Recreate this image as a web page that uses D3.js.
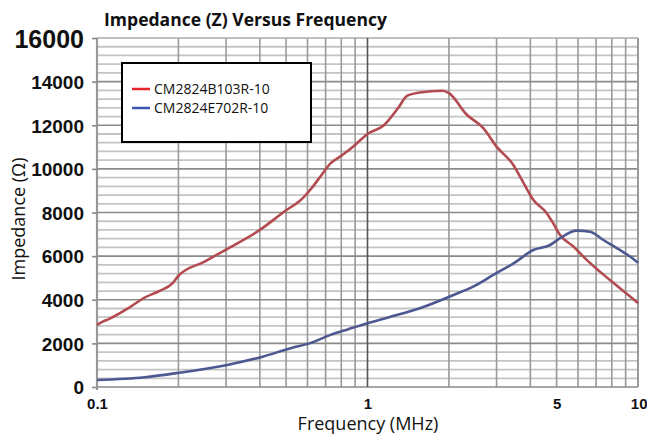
<!DOCTYPE html>
<html><head><meta charset="utf-8">
<script src="https://cdn.jsdelivr.net/npm/d3@7"></script>
<style>
body{margin:0;background:#fff;}
svg{display:block;font-family:"Open Sans",sans-serif;}
</style></head>
<body><svg id="c" width="647" height="435"></svg>
<script>
const redFreq = [0.1,0.105,0.11,0.13,0.15,0.17,0.19,0.2,0.25,0.3,0.4,0.5,0.57,0.62,0.67,0.73,0.8,0.9,1.0,1.15,1.3,1.4,1.56,1.9,2.0,2.33,2.68,3.0,3.46,3.72,4.1,4.6,4.86,5.15,5.77,6.46,7.23,8.58,10];
const redVal  = [2850,3000,3100,3600,4100,4400,4750,5100,5750,6300,7200,8100,8600,9100,9650,10250,10600,11100,11600,12000,12800,13350,13500,13580,13470,12480,11870,11020,10180,9500,8580,7970,7500,6970,6440,5830,5290,4530,3850];
const blueFreq = [0.1,0.15,0.2,0.3,0.41,0.52,0.61,0.73,0.85,1.0,1.2,1.56,2.08,2.5,2.92,3.5,4.1,4.73,5.15,5.93,6.65,7.45,8.58,9.34,10];
const blueVal  = [320,450,650,1000,1390,1780,2000,2390,2650,2920,3200,3610,4220,4650,5140,5700,6280,6510,6820,7170,7120,6740,6280,5980,5700];
const seriesNames = ["CM2824B103R-10","CM2824E702R-10"];
const yTicks = [0,2000,4000,6000,8000,10000,12000,14000,16000];
const xTickVals = [0.1,1,5,10];
const xTickLabels = ["0.1","1","5","10"];

const svg = d3.select("#c");
const L=97,R=638,T=38,B=387;
const x = d3.scaleLog().domain([0.1,10]).range([L,R]);
const y = d3.scaleLinear().domain([0,16000]).range([B,T]);

// minor horizontal grid
const minorY = d3.range(0,16001,400).filter(v=>v%2000!==0);
svg.append("g").selectAll("line").data(minorY).join("line")
  .attr("x1",L).attr("x2",R).attr("y1",d=>y(d)).attr("y2",d=>y(d))
  .attr("stroke","#c4c4c4").attr("stroke-width",1.8);
// vertical grid
const vx = [];
[0.1,1].forEach(b=>{for(let k=2;k<=9;k++) vx.push(b*k);});
svg.append("g").selectAll("line").data(vx).join("line")
  .attr("x1",d=>x(d)).attr("x2",d=>x(d)).attr("y1",T).attr("y2",B)
  .attr("stroke","#9a9a9a").attr("stroke-width",1.6);
// major horizontal grid
svg.append("g").selectAll("line").data(yTicks).join("line")
  .attr("x1",L).attr("x2",R).attr("y1",d=>y(d)).attr("y2",d=>y(d))
  .attr("stroke",d=>d===16000?"#aaa":"#8a8a8a").attr("stroke-width",1.6);
// decade line
svg.append("line").attr("x1",x(1)).attr("x2",x(1)).attr("y1",T).attr("y2",B)
  .attr("stroke","#555").attr("stroke-width",1.6);
// frame
svg.append("line").attr("x1",R).attr("x2",R).attr("y1",T).attr("y2",B).attr("stroke","#9a9a9a").attr("stroke-width",2);
svg.append("line").attr("x1",L).attr("x2",L).attr("y1",T).attr("y2",B+3).attr("stroke","#999").attr("stroke-width",2.2);

// y axis ticks/labels
const yAxis = d3.axisLeft(y).tickValues(yTicks).tickSize(5).tickFormat(d3.format("d"));
const gy = svg.append("g").attr("transform",`translate(${L},0)`).call(yAxis);
gy.select(".domain").remove();
gy.selectAll(".tick line").attr("stroke","#888").attr("stroke-width",1.6);
gy.selectAll(".tick text").attr("x",-13).attr("dy","0.36em")
  .attr("font-weight","bold").attr("fill","#111")
  .attr("font-size",d=>d===16000?25:19);

// x axis labels
const xAxis = d3.axisBottom(x).tickValues(xTickVals).tickSize(0).tickFormat((d,i)=>xTickLabels[i]);
const gx = svg.append("g").attr("transform",`translate(0,${B})`).call(xAxis);
gx.select(".domain").remove();
gx.selectAll(".tick text").attr("y",11).attr("dy","0.71em")
  .attr("font-weight","bold").attr("font-size",15).attr("fill","#111");
gx.selectAll(".tick text").filter(d=>d===10).attr("text-anchor","end").attr("dx",9);

// lines
const line = d3.line().x(d=>x(d[0])).y(d=>y(d[1])).curve(d3.curveMonotoneX);
svg.append("path").datum(redFreq.map((f,i)=>[f,redVal[i]])).attr("d",line)
  .attr("fill","none").attr("stroke","#b24a50").attr("stroke-width",2.6).attr("stroke-linejoin","round");
svg.append("path").datum(blueFreq.map((f,i)=>[f,blueVal[i]])).attr("d",line)
  .attr("fill","none").attr("stroke","#4d5790").attr("stroke-width",2.6).attr("stroke-linejoin","round");

// legend
const lg = svg.append("g");
lg.append("rect").attr("x",122).attr("y",63).attr("width",189).attr("height",79)
  .attr("fill","#fff").attr("stroke","#000").attr("stroke-width",2);
const lc = ["#e8232a","#3c57ad"];
seriesNames.forEach((n,i)=>{
  const yy = 89 + i*19;
  lg.append("line").attr("x1",132).attr("x2",150).attr("y1",yy).attr("y2",yy).attr("stroke",lc[i]).attr("stroke-width",2.5);
  lg.append("text").attr("x",154).attr("y",yy).attr("dy","0.35em").attr("font-size",14).attr("fill","#111").text(n);
});

// titles
svg.append("text").attr("x",104).attr("y",26).attr("font-weight","bold").attr("font-size",18.5).attr("fill","#111")
  .attr("textLength",283).attr("lengthAdjust","spacingAndGlyphs")
  .text("Impedance (Z) Versus Frequency");
svg.append("text").attr("transform","translate(25,219) rotate(-90)").attr("text-anchor","middle")
  .attr("font-size",18).attr("fill","#111").text("Impedance (Ω)");
svg.append("text").attr("x",368).attr("y",430).attr("text-anchor","middle")
  .attr("font-size",18).attr("fill","#111").text("Frequency (MHz)");
</script></body></html>
